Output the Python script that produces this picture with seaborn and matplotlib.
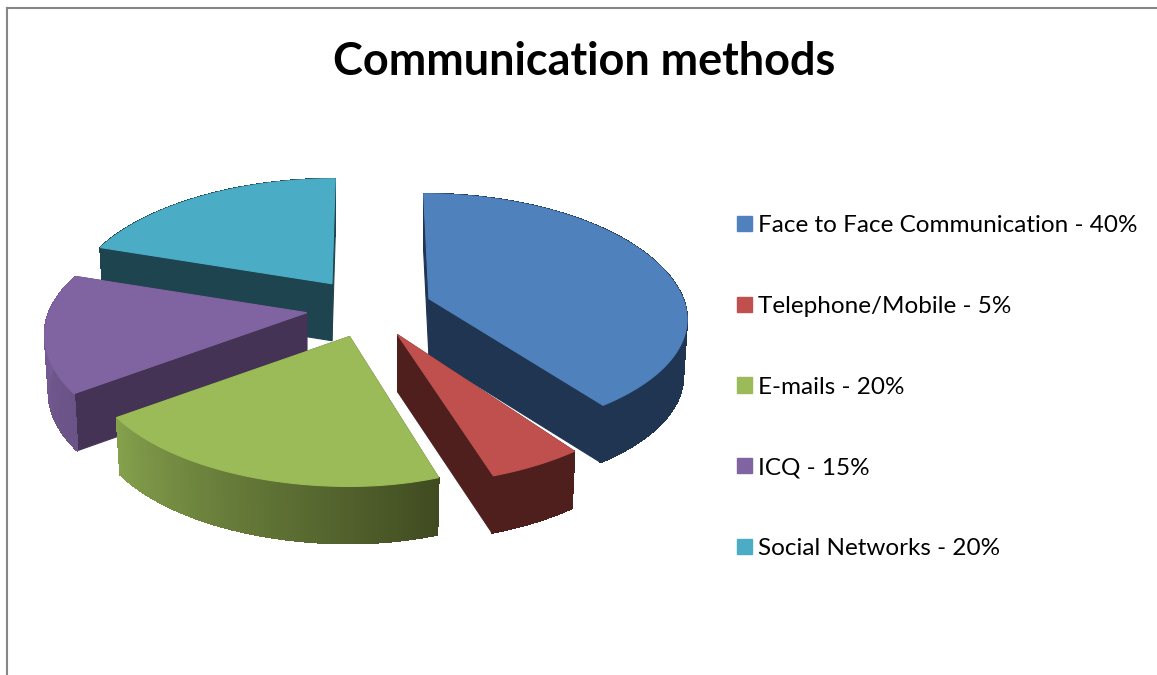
import numpy as np
import matplotlib
matplotlib.use("Agg")
import matplotlib.pyplot as plt
from matplotlib.colors import to_rgb
from matplotlib.patches import Patch
import seaborn as sns

# Chart content
methods = ["Face to Face Communication", "Telephone/Mobile", "E-mails", "ICQ", "Social Networks"]
shares = [40, 5, 20, 15, 20]
title = "Communication methods"

top_colors = ["#4F81BD", "#C0504D", "#9BBB59", "#8064A2", "#4BACC6"]
wall_colors = ["#1F3552", "#4F1F1E", "#3F4A22", "#453355", "#1E4450"]
rim_near = ["#1F3552", "#4F1F1E", "#404B21", "#6A5386", "#1E4450"]
rim_far = ["#1F3552", "#4F1F1E", "#84A04C", "#7A5F9A", "#1E4450"]

# Pie geometry, in figure pixels
CX, CY = 369, 308
EXPLODE_X, EXPLODE_Y = 63, 30
RX, RY, PERSP = 258, 123.5, 0.176
DEPTH = 57
BOTTOM_SCALE = 0.985
front_squash = [0.915, 1, 1, 1, 1]
right_pinch = [0.985, 1, 0.93, 1, 1]

sns.set_theme(style="white")
plt.rcParams["font.family"] = ["Lato", "DejaVu Sans"]

fig = plt.figure(figsize=(11.57, 6.75), dpi=100, facecolor="white")
ax = fig.add_axes([7 / 1157, 0, 1150 / 1157, 667 / 675])
ax.set_xlim(7, 1157)
ax.set_ylim(675, 8)
ax.set_xticks([])
ax.set_yticks([])
for side, spine in ax.spines.items():
    spine.set_visible(side in ("top", "left"))
    spine.set_color("#868686")
    spine.set_linewidth(1.5)


def rim(theta, index, scale=1.0):
    u, v = np.sin(theta), np.cos(theta)
    w = 1 + PERSP * v
    x = scale * RX * u / w
    y = -RY * v / w
    # Far edge leans towards the pie's centre; near edges are trimmed per slice
    x = x + (CX - apex_x) * PERSP * 0.5 * np.clip(v, 0, None)
    x = np.where(u > 0, x * right_pinch[index], x)
    y = np.where(y > 0, y * front_squash[index], y)
    return x, y


def fill(xs, ys, color, z, smooth=True):
    ax.fill(xs, ys, facecolor=color, edgecolor=color, linewidth=0.8,
            antialiased=smooth, zorder=z)


# Back slices are painted first so the nearer ones cover them
edges = np.deg2rad(np.cumsum([0] + shares) * 3.6)
slices = list(zip(edges[:-1], edges[1:], top_colors, wall_colors, rim_near, rim_far))
apex = [CY - EXPLODE_Y * np.cos((a + b) / 2) for a, b in zip(edges[:-1], edges[1:])]
for rank, i in enumerate(np.argsort(apex)):
    start, end, top, wall, near, far = slices[i]
    mid = (start + end) / 2
    apex_x = CX + EXPLODE_X * np.sin(mid)
    apex_y = CY - EXPLODE_Y * np.cos(mid)
    z = 2 + rank
    theta = np.linspace(start, end, 90)
    dx, dy = rim(theta, i)
    bx, by = rim(theta, i, BOTTOM_SCALE)

    # Cut faces on both sides of the wedge
    for k in (0, -1):
        fill([apex_x, apex_x + dx[k], apex_x + bx[k], apex_x],
             [apex_y, apex_y + dy[k], apex_y + by[k] + DEPTH, apex_y + DEPTH], wall, z)

    # Outer side, shaded strip by strip
    c0, c1 = np.array(to_rgb(near)), np.array(to_rgb(far))
    for j in range(len(theta) - 1):
        t = j / (len(theta) - 2)
        fill([apex_x + dx[j], apex_x + dx[j + 1], apex_x + bx[j + 1], apex_x + bx[j]],
             [apex_y + dy[j], apex_y + dy[j + 1], apex_y + by[j + 1] + DEPTH, apex_y + by[j] + DEPTH],
             tuple(c0 + (c1 - c0) * t), z, smooth=False)

    # Top face
    fill(np.r_[apex_x, apex_x + dx], np.r_[apex_y, apex_y + dy], top, z + 0.5)

fig.text(584 / 1157, 1 - 62 / 675, title, ha="center", va="center",
         fontsize=32.4, fontweight="bold", color="black")

handles = [Patch(facecolor=c, edgecolor=c, label=f"{m} - {s}%")
           for m, s, c in zip(methods, shares, top_colors)]
ax.legend(handles=handles, loc="upper left", bbox_to_anchor=(713 / 1157, 1 - 191 / 675),
          bbox_transform=fig.transFigure, frameon=False, fontsize=17.5,
          handlelength=0.6, handleheight=0.6, handletextpad=0.25,
          labelspacing=2.455, labelcolor="black", borderpad=0.5)

fig.savefig("out.png", dpi=100, facecolor="white")
